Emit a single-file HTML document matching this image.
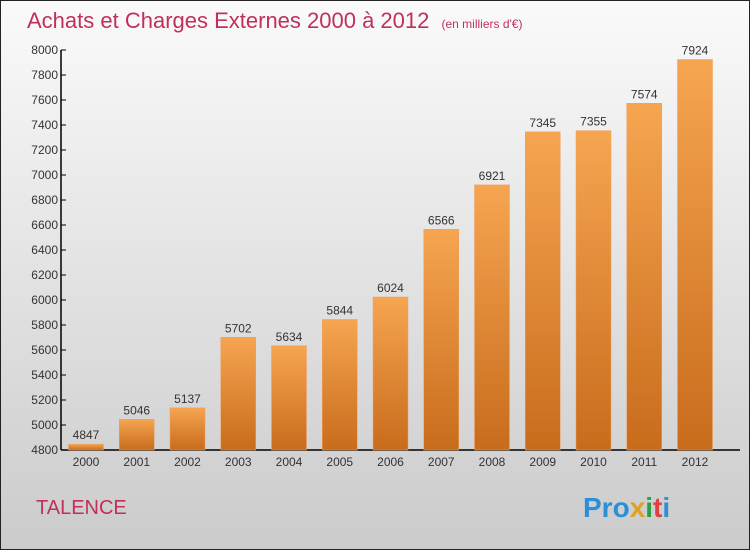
<!DOCTYPE html>
<html><head><meta charset="utf-8"><style>
body{margin:0;width:750px;height:550px;overflow:hidden}
svg{display:block;font-family:"Liberation Sans",sans-serif}
</style></head><body>
<svg id="c" width="750" height="550" viewBox="0 0 750 550">
<defs>
<linearGradient id="bg" x1="0" y1="0" x2="0" y2="1"><stop offset="0" stop-color="#fafafa"/><stop offset="1" stop-color="#cbcbcb"/></linearGradient>
<linearGradient id="bar" x1="0" y1="0" x2="0" y2="1"><stop offset="0" stop-color="#f6a551"/><stop offset="1" stop-color="#c86c1c"/></linearGradient>
</defs>
<rect x="0.5" y="0.5" width="749" height="549" fill="url(#bg)" stroke="#222"/>
<text x="27" y="28" font-size="22" fill="#c0305a">Achats et Charges Externes 2000 à 2012 <tspan font-size="12" dx="6">(en milliers d'€)</tspan></text>
<text x="36" y="514" font-size="20" fill="#c0305a">TALENCE</text>
<g font-size="28" font-weight="bold">
<text x="583" y="517"><tspan fill="#2a8fd6">Pro</tspan><tspan fill="#e0a020">x</tspan><tspan fill="#2aa040">i</tspan><tspan fill="#e04040">t</tspan><tspan fill="#2a8fd6">i</tspan></text>
</g>
<g id="axes"></g><g id="bars"></g>
</svg>
<script>
const years=["2000","2001","2002","2003","2004","2005","2006","2007","2008","2009","2010","2011","2012"];
const values=[4847,5046,5137,5702,5634,5844,6024,6566,6921,7345,7355,7574,7924];
const yTicks=[4800,5000,5200,5400,5600,5800,6000,6200,6400,6600,6800,7000,7200,7400,7600,7800,8000];
const NS="http://www.w3.org/2000/svg";
const y0=450,y1=50,vmin=4800,vmax=8000,x0=61,step=50.75,bw=35;
const Y=v=>y0-(v-vmin)/(vmax-vmin)*(y0-y1);
const X=i=>x0+25+i*step;
function mk(t,a,p){const e=document.createElementNS(NS,t);for(const k in a)e.setAttribute(k,a[k]);p.appendChild(e);return e;}
const ax=document.getElementById('axes'),bs=document.getElementById('bars');
let l=mk('line',{x1:x0,y1:y1,x2:x0,y2:y0,stroke:'#000','stroke-width':1.5},ax);


l=mk('line',{x1:x0,y1:y0,x2:740,y2:y0,stroke:'#000','stroke-width':1.5},ax);


yTicks.forEach(v=>{
 const t=mk('line',{x1:x0,x2:x0+5,y1:Y(v),y2:Y(v),stroke:'#000'},ax);
 
 
 const tx=mk('text',{x:x0-3,y:Y(v)+4,'font-size':12,'text-anchor':'end',fill:'#333'},ax);
 tx.textContent=v;
 
 
});
years.forEach((yr,i)=>{
 const cx=X(i);
 const r=mk('rect',{x:cx-bw/2,y:Y(values[i]),width:bw,height:y0-Y(values[i]),fill:'url(#bar)',stroke:'#f0a060','stroke-width':0.5},bs);
 
 
 const vt=mk('text',{x:cx,y:Y(values[i])-5,'font-size':12,'text-anchor':'middle',fill:'#333'},bs);
 vt.textContent=values[i];
 
 
 const xt=mk('text',{x:cx,y:466,'font-size':12,'text-anchor':'middle',fill:'#333'},ax);
 xt.textContent=yr;
 
 
});
</script>
</body></html>
